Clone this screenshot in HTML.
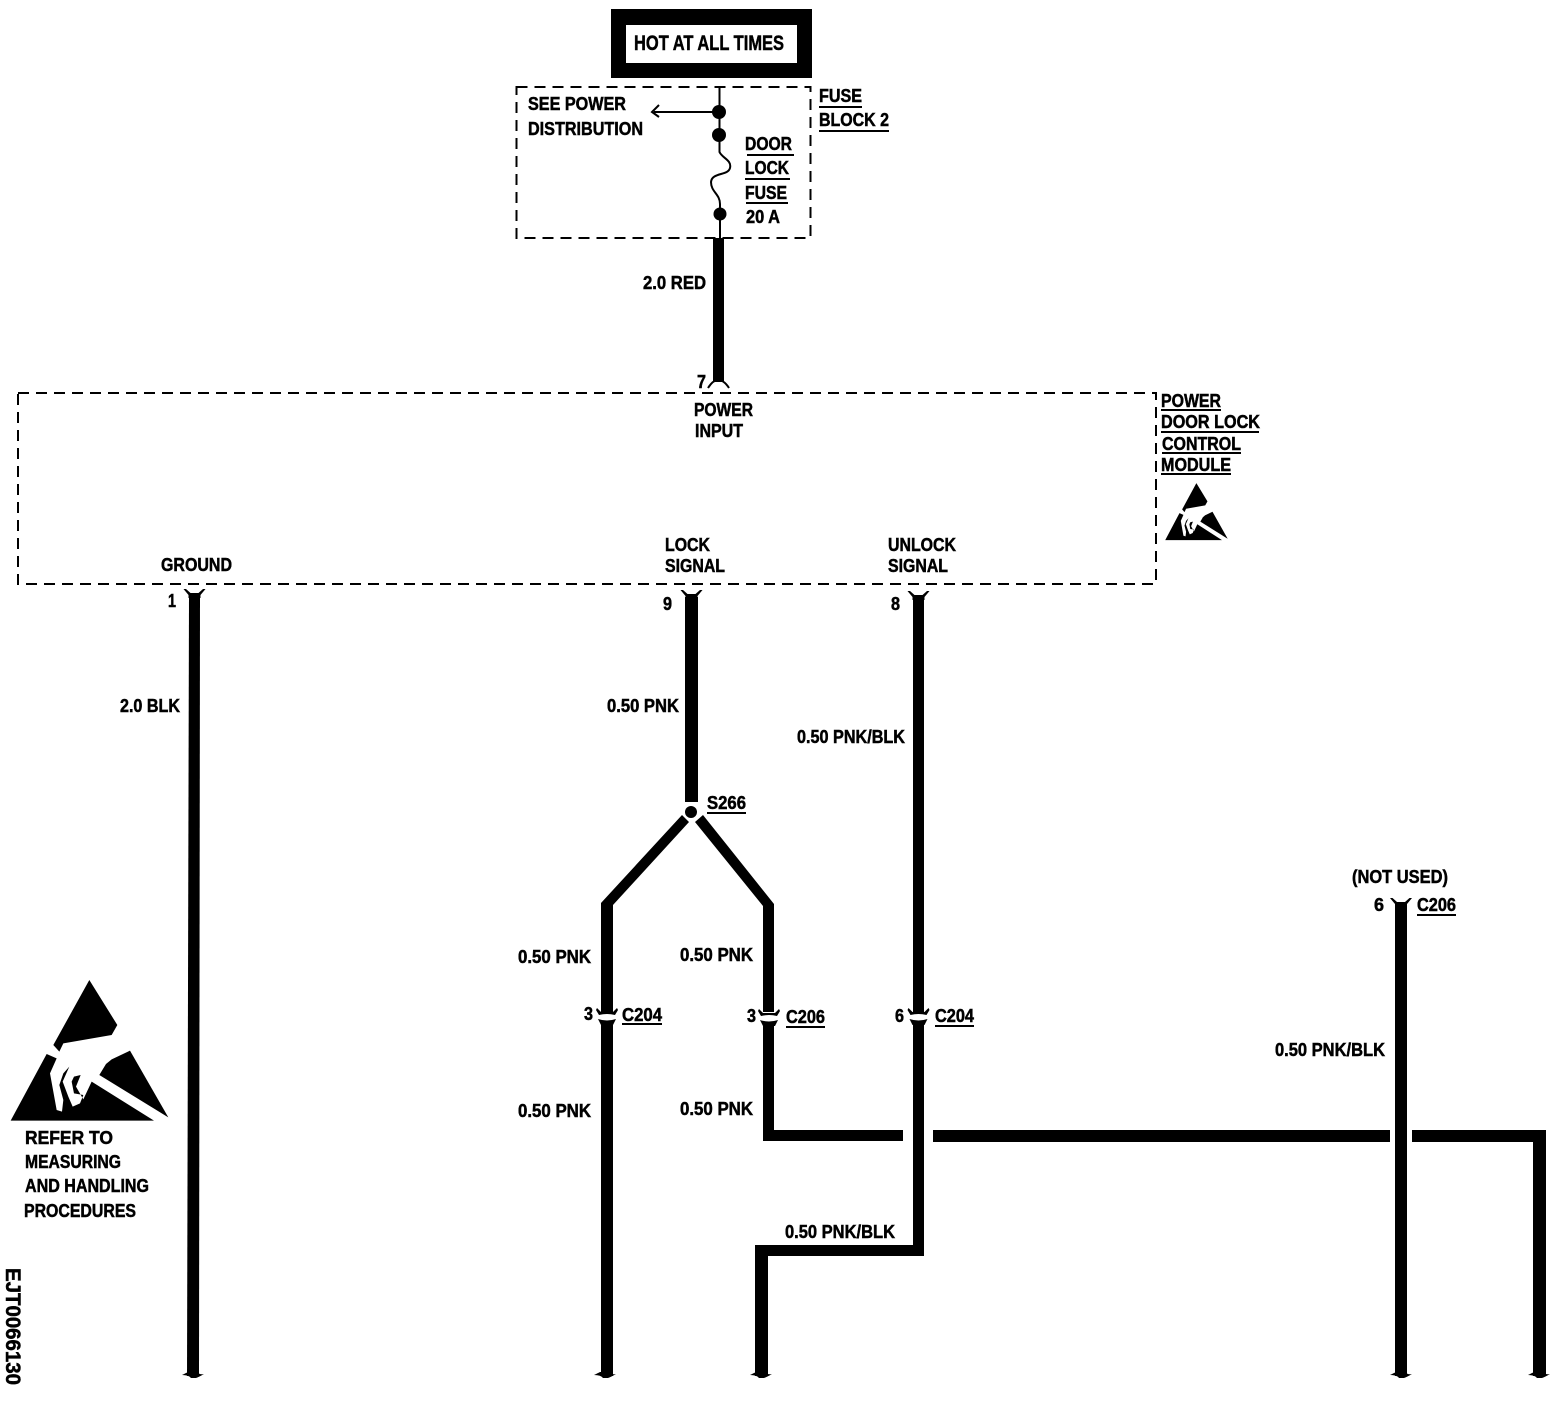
<!DOCTYPE html>
<html><head><meta charset="utf-8"><style>
html,body{margin:0;padding:0;background:#fff}
svg{display:block}
text{font-family:"Liberation Sans",sans-serif;font-weight:bold;font-size:18px;fill:#000;stroke:#000;stroke-width:.5px}
.w{fill:#000;stroke:none}
.d{fill:none;stroke:#000;stroke-width:2;stroke-dasharray:11 7}
.u{stroke:#000;stroke-width:2}
.f{fill:none;stroke:#000;stroke-width:2}
</style></head><body>
<svg width="1556" height="1408" viewBox="0 0 1556 1408" xmlns="http://www.w3.org/2000/svg">
<defs>
<g id="top"><path d="M-11,0 L-6,6 L-6,9 L6,9 L6,6 L11,0 L8.500,0 L4,4 L-4,4 L-8.500,0Z" class="w"/></g>
<g id="conn">
<path d="M-10,-8 L-6,-4 L6,-4 L10,-8 L11,-6 L8,-1 Q0,-3 -8,-1 L-11,-6Z" class="w"/>
<path d="M-9,3 Q0,6 9,3 L7,7 L6,9 L-6,9 L-7,7Z" class="w"/>
</g>
<g id="foot"><path d="M-11,0 Q-7,-2 -5,-3 L5,-3 Q6,0 11,-1 Q6,2 3,3 L-2,3 Q-4,0 -11,0Z" class="w"/></g>
<g id="esd">
<path class="w" d="M268,60 L352,195 L335,225 L190,250 L178,275 L160,255Z"/>
<path class="w" d="M32,482 L140,282 L170,295 L150,340 L170,450 L186,455 L190,420 L178,375 L190,340 L208,320 L188,365 L205,410 L218,440 L240,430 L250,405 L222,400 L215,365 L222,350 L242,345 L228,380 L250,418 L275,365 L462,482Z"/>
<path class="w" d="M390,272 L505,472 L298,345 L318,312 L335,298Z"/>
</g>
</defs>

<!-- hot box -->
<rect x="611" y="9" width="201" height="69" class="w"/>
<rect x="626" y="25" width="171" height="38" fill="#fff"/>
<text x="634" y="50" textLength="150" lengthAdjust="spacingAndGlyphs" style="font-size:21px">HOT AT ALL TIMES</text>

<!-- fuse block -->
<rect x="516.5" y="87" width="294" height="151" class="d"/>
<path d="M719.500,87 V152 C722,158 732,160 730,168 C728,176 712,172 711,182 C711,192 720,194 720,204 V238" class="f"/>
<circle cx="719" cy="112" r="7" class="w"/>
<circle cx="719" cy="135" r="7" class="w"/>
<circle cx="720" cy="214" r="6.500" class="w"/>
<path d="M719,112 H654" class="f"/>
<path d="M659,105 L652,112 L659,117" class="f"/>
<text x="528" y="110" textLength="98" lengthAdjust="spacingAndGlyphs">SEE POWER</text>
<text x="528" y="135" textLength="115" lengthAdjust="spacingAndGlyphs">DISTRIBUTION</text>
<text x="819" y="102" textLength="43" lengthAdjust="spacingAndGlyphs">FUSE</text>
<line x1="819" y1="107" x2="862" y2="107" class="u"/>
<text x="819" y="126" textLength="70" lengthAdjust="spacingAndGlyphs">BLOCK 2</text>
<line x1="819" y1="131" x2="889" y2="131" class="u"/>
<text x="745" y="150" textLength="47" lengthAdjust="spacingAndGlyphs">DOOR</text>
<line x1="747" y1="155" x2="794" y2="155" class="u"/>
<text x="745" y="174" textLength="44" lengthAdjust="spacingAndGlyphs">LOCK</text>
<line x1="745" y1="179" x2="790" y2="179" class="u"/>
<text x="745" y="199" textLength="42" lengthAdjust="spacingAndGlyphs">FUSE</text>
<line x1="746" y1="203" x2="788" y2="203" class="u"/>
<text x="746" y="223" textLength="34" lengthAdjust="spacingAndGlyphs">20 A</text>

<!-- red wire -->
<rect x="713" y="238" width="11" height="144" class="w"/>
<path d="M708,388 Q713,380 718,380 Q724,380 729,388" class="f"/>
<text x="643" y="289" textLength="63" lengthAdjust="spacingAndGlyphs">2.0 RED</text>
<text x="697" y="388" textLength="9" lengthAdjust="spacingAndGlyphs">7</text>

<!-- module -->
<rect x="18" y="393" width="1138" height="191" class="d"/>
<text x="694" y="416" textLength="59" lengthAdjust="spacingAndGlyphs">POWER</text>
<text x="695" y="437" textLength="48" lengthAdjust="spacingAndGlyphs">INPUT</text>
<text x="161" y="571" textLength="71" lengthAdjust="spacingAndGlyphs">GROUND</text>
<text x="665" y="551" textLength="45" lengthAdjust="spacingAndGlyphs">LOCK</text>
<text x="665" y="572" textLength="60" lengthAdjust="spacingAndGlyphs">SIGNAL</text>
<text x="888" y="551" textLength="68" lengthAdjust="spacingAndGlyphs">UNLOCK</text>
<text x="888" y="572" textLength="60" lengthAdjust="spacingAndGlyphs">SIGNAL</text>
<text x="1161" y="407" textLength="60" lengthAdjust="spacingAndGlyphs">POWER</text>
<line x1="1161" y1="410" x2="1221" y2="410" class="u"/>
<text x="1161" y="428" textLength="99" lengthAdjust="spacingAndGlyphs">DOOR LOCK</text>
<line x1="1161" y1="432" x2="1259" y2="432" class="u"/>
<text x="1162" y="450" textLength="79" lengthAdjust="spacingAndGlyphs">CONTROL</text>
<line x1="1162" y1="453" x2="1241" y2="453" class="u"/>
<text x="1161" y="471" textLength="70" lengthAdjust="spacingAndGlyphs">MODULE</text>
<line x1="1161" y1="474" x2="1231" y2="474" class="u"/>
<use href="#esd" transform="translate(1161,475) scale(.132 .135)"/>

<!-- ground wire -->
<polygon points="189,596 200,596 199,1376 187,1376" class="w"/>
<use href="#top" x="194.500" y="589"/>
<use href="#foot" x="193" y="1375"/>
<text x="168" y="607" textLength="8" lengthAdjust="spacingAndGlyphs">1</text>
<text x="120" y="712" textLength="60" lengthAdjust="spacingAndGlyphs">2.0 BLK</text>

<!-- lock wire -->
<rect x="685" y="597" width="13" height="205" class="w"/>
<use href="#top" x="691.500" y="590"/>
<text x="663" y="610" textLength="9" lengthAdjust="spacingAndGlyphs">9</text>
<text x="607" y="712" textLength="72" lengthAdjust="spacingAndGlyphs">0.50 PNK</text>
<circle cx="691" cy="812" r="6" class="w"/>
<text x="707" y="809" textLength="39" lengthAdjust="spacingAndGlyphs">S266</text>
<line x1="707" y1="813" x2="746" y2="813" class="u"/>
<polygon points="682,815 689,822 613,905 613,1012 601,1012 601,903" class="w"/>
<polygon points="703,815 695,822 763,906 763,1012 774,1012 774,904" class="w"/>
<rect x="601" y="1022" width="12" height="354" class="w"/>
<rect x="763" y="1022" width="11" height="119" class="w"/>
<rect x="763" y="1130" width="140" height="11" class="w"/>
<use href="#conn" x="607" y="1016"/>
<use href="#conn" x="769" y="1017"/>
<use href="#foot" x="605" y="1375"/>
<text x="518" y="963" textLength="73" lengthAdjust="spacingAndGlyphs">0.50 PNK</text>
<text x="680" y="961" textLength="73" lengthAdjust="spacingAndGlyphs">0.50 PNK</text>
<text x="584" y="1020" textLength="9" lengthAdjust="spacingAndGlyphs">3</text>
<text x="747" y="1022" textLength="9" lengthAdjust="spacingAndGlyphs">3</text>
<text x="622" y="1021" textLength="40" lengthAdjust="spacingAndGlyphs">C204</text>
<line x1="622" y1="1024" x2="662" y2="1024" class="u"/>
<text x="786" y="1023" textLength="39" lengthAdjust="spacingAndGlyphs">C206</text>
<line x1="786" y1="1027" x2="825" y2="1027" class="u"/>
<text x="518" y="1117" textLength="73" lengthAdjust="spacingAndGlyphs">0.50 PNK</text>
<text x="680" y="1115" textLength="73" lengthAdjust="spacingAndGlyphs">0.50 PNK</text>

<!-- unlock wire -->
<rect x="913" y="598" width="11" height="414" class="w"/>
<use href="#top" x="918.500" y="591"/>
<rect x="913" y="1022" width="11" height="234" class="w"/>
<use href="#conn" x="918.500" y="1016"/>
<rect x="755" y="1245" width="169" height="11" class="w"/>
<rect x="755" y="1245" width="13" height="131" class="w"/>
<use href="#foot" x="761" y="1375"/>
<text x="891" y="610" textLength="9" lengthAdjust="spacingAndGlyphs">8</text>
<text x="797" y="743" textLength="108" lengthAdjust="spacingAndGlyphs">0.50 PNK/BLK</text>
<text x="895" y="1022" textLength="9" lengthAdjust="spacingAndGlyphs">6</text>
<text x="935" y="1022" textLength="39" lengthAdjust="spacingAndGlyphs">C204</text>
<line x1="935" y1="1026" x2="974" y2="1026" class="u"/>
<text x="785" y="1238" textLength="110" lengthAdjust="spacingAndGlyphs">0.50 PNK/BLK</text>

<!-- right side -->
<rect x="933" y="1130" width="457" height="12" class="w"/>
<rect x="1412" y="1130" width="134" height="12" class="w"/>
<rect x="1533" y="1130" width="13" height="246" class="w"/>
<use href="#foot" x="1539" y="1375"/>
<rect x="1395" y="906" width="12" height="470" class="w"/>
<use href="#top" x="1401" y="898"/>
<use href="#foot" x="1401" y="1375"/>
<text x="1352" y="883" textLength="96" lengthAdjust="spacingAndGlyphs">(NOT USED)</text>
<text x="1374" y="911" textLength="10" lengthAdjust="spacingAndGlyphs">6</text>
<text x="1417" y="911" textLength="39" lengthAdjust="spacingAndGlyphs">C206</text>
<line x1="1417" y1="915" x2="1456" y2="915" class="u"/>
<text x="1275" y="1056" textLength="110" lengthAdjust="spacingAndGlyphs">0.50 PNK/BLK</text>

<!-- ESD large -->
<use href="#esd" transform="translate(0,960) scale(.3333)"/>
<text x="25" y="1144" textLength="88" lengthAdjust="spacingAndGlyphs">REFER TO</text>
<text x="25" y="1168" textLength="96" lengthAdjust="spacingAndGlyphs">MEASURING</text>
<text x="25" y="1192" textLength="124" lengthAdjust="spacingAndGlyphs">AND HANDLING</text>
<text x="24" y="1217" textLength="112" lengthAdjust="spacingAndGlyphs">PROCEDURES</text>
<text transform="translate(6,1268) rotate(90)" textLength="117" lengthAdjust="spacingAndGlyphs" style="font-size:21px">EJT0066130</text>
</svg>
</body></html>
